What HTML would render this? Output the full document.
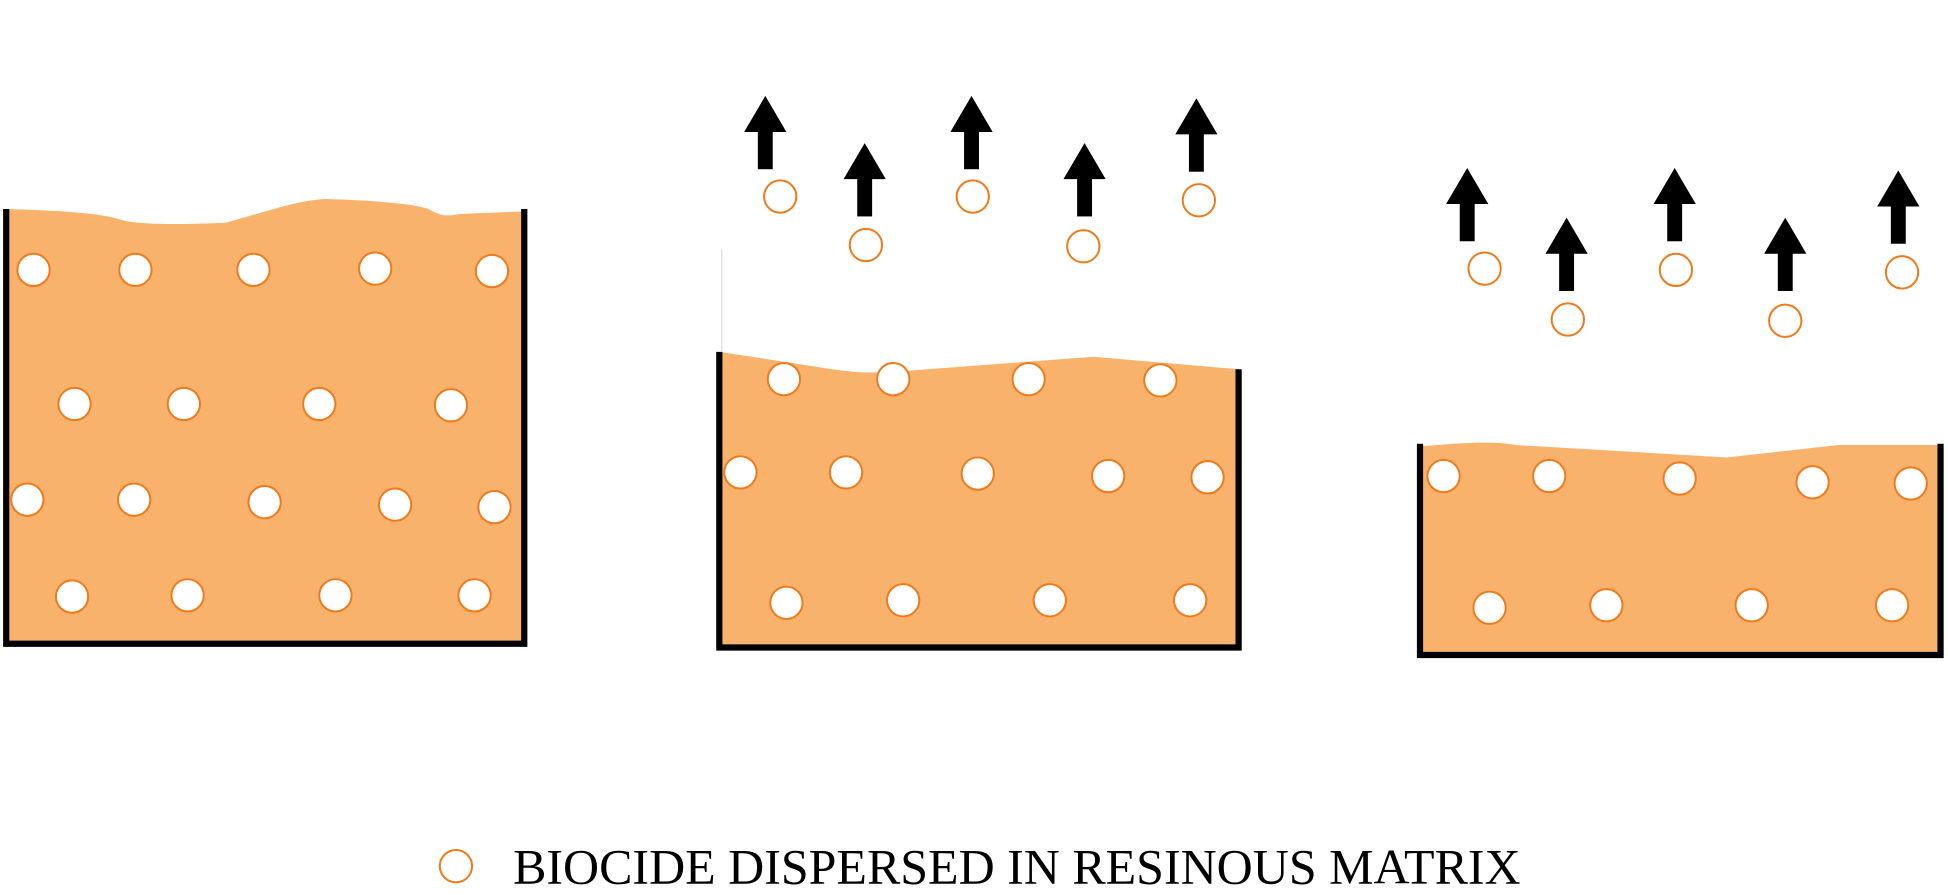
<!DOCTYPE html>
<html><head><meta charset="utf-8"><style>
html,body{margin:0;padding:0;background:#fff;}
svg{display:block;}
</style></head><body>
<svg width="1948" height="895" viewBox="0 0 1568 720" xmlns="http://www.w3.org/2000/svg">
<defs>
<g id="ar"><polygon points="0,0 -17,29 17,29" fill="#000"/><rect x="-6" y="28" width="12" height="31" fill="#000"/></g>
</defs>
<g fill="#F9B26C">
<path d="M5,168 C40,169 80,171 95,176 C110,182 160,180 182,179 C215,170 240,161 262,160 C300,161 335,164 345,168 C355,174 360,174 370,172 L420,170 L420,518 L5,518 Z"/>
<path d="M579,283 L670,297 C690,300 700,300 720,299 L880,287 L997,297 L997,520 L579,520 Z"/>
<path d="M1143,359 C1170,357 1200,354 1220,358 L1390,368 L1480,358 L1562,358 L1562,526 L1143,526 Z"/>
</g>
<g fill="none" stroke="#000" stroke-width="5">
<polyline points="5,168 5,518 422,518 422,168"/>
<polyline points="579,283 579,521 997,521 997,297"/>
<polyline points="1143,357 1143,527 1562,527 1562,357"/>
</g>
<line x1="581" y1="200" x2="581" y2="283" stroke="#ddd" stroke-width="1"/>
<g fill="#fff" stroke="#F07A1A" stroke-width="1.6">
<circle cx="27" cy="217" r="13"/><circle cx="109" cy="217" r="13"/><circle cx="204" cy="217" r="13"/><circle cx="302" cy="216" r="13"/><circle cx="396" cy="218" r="13"/>
<circle cx="60" cy="325" r="13"/><circle cx="148" cy="325" r="13"/><circle cx="257" cy="325" r="13"/><circle cx="363" cy="326" r="13"/>
<circle cx="22" cy="402" r="13"/><circle cx="108" cy="402" r="13"/><circle cx="213" cy="404" r="13"/><circle cx="318" cy="406" r="13"/><circle cx="398" cy="408" r="13"/>
<circle cx="58" cy="480" r="13"/><circle cx="151" cy="479" r="13"/><circle cx="270" cy="479" r="13"/><circle cx="382" cy="479" r="13"/>
<circle cx="631" cy="305" r="13"/><circle cx="719" cy="305" r="13"/><circle cx="828" cy="305" r="13"/><circle cx="934" cy="306" r="13"/>
<circle cx="596" cy="380" r="13"/><circle cx="681" cy="380" r="13"/><circle cx="787" cy="381" r="13"/><circle cx="892" cy="383" r="13"/><circle cx="972" cy="384" r="13"/>
<circle cx="633" cy="485" r="13"/><circle cx="727" cy="483" r="13"/><circle cx="845" cy="483" r="13"/><circle cx="958" cy="483" r="13"/>
<circle cx="628" cy="158" r="13"/><circle cx="697" cy="197" r="13"/><circle cx="783" cy="158" r="13"/><circle cx="872" cy="198" r="13"/><circle cx="965" cy="161" r="13"/>
<circle cx="1162" cy="383" r="13"/><circle cx="1247" cy="383" r="13"/><circle cx="1352" cy="385" r="13"/><circle cx="1459" cy="388" r="13"/><circle cx="1538" cy="389" r="13"/>
<circle cx="1199" cy="489" r="13"/><circle cx="1293" cy="487" r="13"/><circle cx="1410" cy="487" r="13"/><circle cx="1523" cy="487" r="13"/>
<circle cx="1195" cy="216" r="13"/><circle cx="1262" cy="257" r="13"/><circle cx="1349" cy="217" r="13"/><circle cx="1437" cy="258" r="13"/><circle cx="1531" cy="219" r="13"/>
<circle cx="367" cy="697" r="13"/>
</g>
<use href="#ar" x="616" y="77"/><use href="#ar" x="696" y="115"/><use href="#ar" x="782" y="77"/><use href="#ar" x="873" y="115"/><use href="#ar" x="963" y="79"/>
<use href="#ar" x="1181" y="135"/><use href="#ar" x="1261" y="175"/><use href="#ar" x="1348" y="135"/><use href="#ar" x="1437" y="175"/><use href="#ar" x="1528" y="137"/>
<text x="413" y="711" font-family="Liberation Serif, serif" font-size="40" textLength="811" lengthAdjust="spacingAndGlyphs" fill="#000">BIOCIDE DISPERSED IN RESINOUS MATRIX</text>
</svg>
</body></html>
